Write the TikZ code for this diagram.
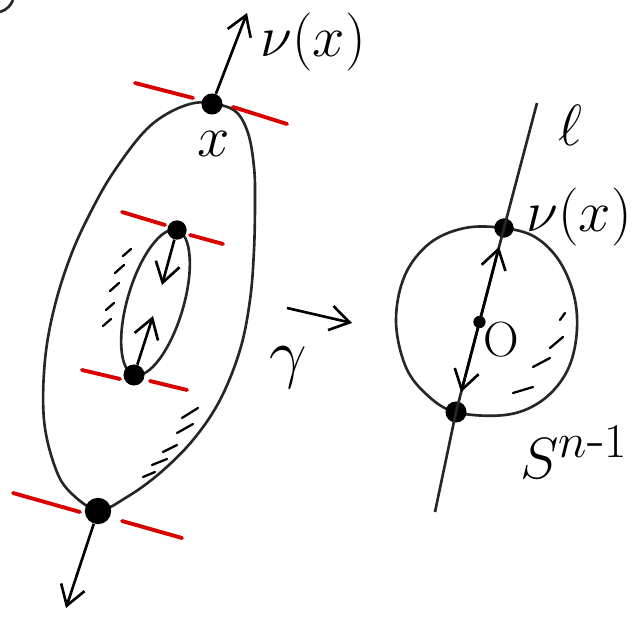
\documentclass[tikz,border=0pt]{standalone}
\usetikzlibrary{arrows.meta,calc}
\begin{document}
\begin{tikzpicture}[x=0.02cm,y=-0.02cm,
  curve/.style={line width=1.5pt, black!85},
  tang/.style={line width=2.2pt, red!85!black, line cap=round},
  vec/.style={line width=1.5pt, -{Straight Barb[length=11pt,width=14pt,line width=1.5pt]}},
  dot/.style={circle, fill=black, inner sep=0pt, minimum size=#1},
  dot/.default=11pt,
  lbl/.style={font=\Huge, inner sep=0pt, scale=1.33},
  hatch/.style={line width=1.3pt, line cap=round}]
\useasboundingbox (0,0) rectangle (640,617);
\fill[white] (0,0) rectangle (640,617);

% small arc in top-left corner
\draw[curve] (0,12) .. controls (7,10) and (11,5) .. (13,0);

% outer oval
\draw[curve] plot[smooth cycle, tension=0.6] coordinates {
  (210,103) (235,111) (248,133) (254,167) (255,200) (254,250) (250,300) (240,350)
  (220,400) (193,440) (160,473) (127,497) (98,510) (70,492) (55,467) (44,420)
  (45,360) (55,305) (73,250) (97,200) (117,167) (143,133) (165,115) (190,104)};

% inner oval
\coordinate (ic) at (155.5,302.5);
\draw[curve] (ic) ellipse [x radius=1.51cm, y radius=0.56cm, rotate=73.5];

% points on the ovals
\node[dot=12pt] (x) at (212,104) {};
\node[dot=15pt] (xb) at (98,511) {};
\node[dot=11pt] (pt) at (177,230) {};
\node[dot=12pt] (pb) at (134,375) {};

% tangent lines (red)
\draw[tang] (135,83) -- (193,98);
\draw[tang] (233,107) -- (287,124);
\draw[tang] (122,212) -- (165,225);
\draw[tang] (190,235) -- (223,244);
\draw[tang] (82,370) -- (120,379);
\draw[tang] (150,381) -- (187,390);
\draw[tang] (13,493) -- (80,512);
\draw[tang] (122,521) -- (182,538);

% normal vectors
\coordinate (nx) at (247,13);
\coordinate (nxb) at (66,608);
\coordinate (npt) at (162,285);
\coordinate (npb) at (153,316);
\draw[vec] (x) -- (nx);
\draw[vec] (xb) -- (nxb);
\draw[vec] (pt) -- (npt);
\draw[vec] (pb) -- (npb);

% hatching
\draw[hatch] (123,256) -- (131,249);
\draw[hatch] (115,273) -- (124,265);
\draw[hatch] (110,291) -- (119,283);
\draw[hatch] (106,310) -- (114,303);
\draw[hatch] (103,326) -- (111,319);
\draw[hatch] (182,418) -- (198,408);
\draw[hatch] (177,433) -- (193,424);
\draw[hatch] (163,452) -- (177,445);
\draw[hatch] (152,465) -- (167,459);
\draw[hatch] (143,477) -- (155,472);

% labels left
\node[lbl] (lnu) at (313,42) {$\nu(x)$};
\node[lbl] (lx) at (214,144) {$x$};
\node[lbl, scale=1.15] (lg) at (288,368) {$\gamma$};

% map arrow
\coordinate (ma) at (287,308);
\coordinate (mb) at (352,323);
\draw[vec] (ma) -- (mb);

% right: sphere
\draw[curve] plot[smooth cycle, tension=0.6] coordinates {
  (503,228) (535,237) (560,262) (575,300) (576,340) (565,375) (540,402) (505,415)
  (455,412) (425,393) (405,365) (396,320) (405,275) (430,243) (465,228)};

\coordinate (lt) at (537,103);
\coordinate (lb) at (435,512);
\node[dot=11pt] (vt) at (504,228) {};
\node[dot=12pt] (vb) at (456,412) {};
\node[dot=7pt] (o) at ($(vt.center)!0.511!(vb.center)$) {};
\draw[curve] (lt) -- (vt.center) -- (vb.center) -- (lb);
\draw[vec] (o.center) -- ($(o.center)!0.80!(vt.center)$);
\draw[vec] (o.center) -- ($(o.center)!0.78!(vb.center)$);

\draw[hatch] (560,320) -- (565,313);
\draw[hatch] (550,348) -- (563,337);
\draw[hatch] (533,367) -- (550,358);
\draw[hatch] (513,393) -- (533,387);

\node[lbl] (lell) at (570,125) {$\ell$};
\node[lbl] (lnu2) at (579,217) {$\nu(x)$};
\node[lbl, scale=0.85] (lo) at (501,340) {O};
\node[lbl, scale=1.0, anchor=west] (ls) at (520,452) {$S^{n\mbox{-}1}$};
\end{tikzpicture}
\end{document}
